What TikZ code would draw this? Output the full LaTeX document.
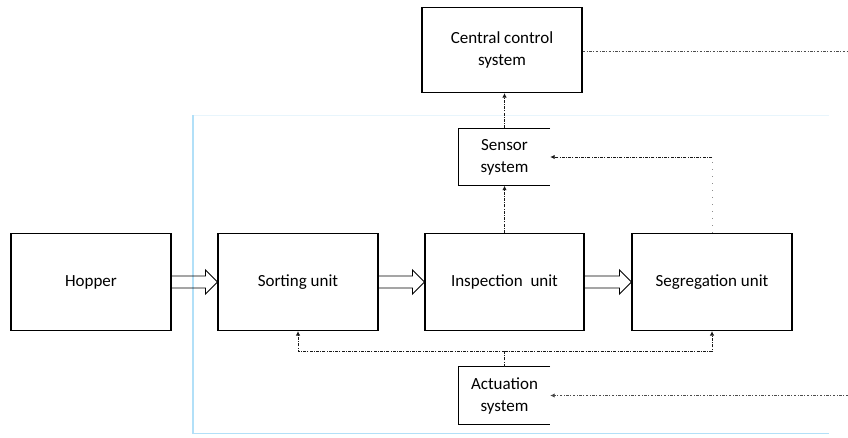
\documentclass[tikz,border=0pt]{standalone}
\usepackage{fontspec}
\setmainfont{Carlito}
\usetikzlibrary{arrows.meta,calc}

\definecolor{framecol}{RGB}{178,224,248}
\definecolor{framefaint}{RGB}{232,245,252}

\tikzset{
  unitbox/.style={draw=black, line width=1.1pt, minimum width=160pt, minimum height=97pt,
    inner sep=0pt, font=\fontsize{17}{22}\selectfont, align=center},
  openbox/.style={draw=none, minimum width=91pt, minimum height=57pt,
    inner sep=0pt, font=\fontsize{17}{22}\selectfont, align=center},
  signal/.style={line width=1pt, black!90, dash pattern=on 3pt off 1.2pt on 1pt off 1.2pt},
  feed/.style={line width=1pt, black!70, dash pattern=on 2.5pt off 1.5pt on 1pt off 1.5pt},
  sparse/.style={line width=1pt, black!45, dash pattern=on 1pt off 6pt},
  tip/.style={-{Latex[length=4.5pt,width=4.5pt]}},
  hollow/.style={draw=black, line width=0.9pt, line join=miter},
  frame/.style={line width=1.2pt, framecol},
}

% open-ended block arrow between two boxes
\newcommand{\flowarrow}[2]{%
  \draw[hollow] ($(#1.east)+(0,-6)$) -- ($(#2.west)+(-12,-6)$) -- ($(#2.west)+(-12,-12)$)
    -- (#2.west) -- ($(#2.west)+(-12,12)$) -- ($(#2.west)+(-12,6)$) -- ($(#1.east)+(0,6)$);}

\begin{document}
\begin{tikzpicture}[x=1pt,y=-1pt]
\useasboundingbox (0,0) rectangle (848,437);

% light blue enclosure of the machine
\draw[line width=1pt, framefaint] (193,115) -- (829,115);
\draw[frame] (829,433.5) -- (193,433.5) -- (193,115);

% main chain of units
\node[unitbox] (hop) at (91,282) {Hopper};
\node[unitbox] (sort) at (298,282) {Sorting unit};
\node[unitbox, minimum width=159pt] (insp) at (504.5,282) {Inspection\ \ unit};
\node[unitbox] (seg) at (712,282) {Segregation unit};

% controller and subsystems
\node[unitbox, minimum height=85pt] (ccs) at (502,50) {Central control\\system};
\node[openbox] (sens) at (504.5,157) {Sensor\\system};
\node[openbox] (act) at (504.5,395.5) {Actuation\\system};
\foreach \b in {sens,act}
  \draw[line width=1.1pt] (\b.north east) -- (\b.north west) -- (\b.south west) -- (\b.south east);

% material flow
\flowarrow{hop}{sort}
\flowarrow{sort}{insp}
\flowarrow{insp}{seg}

% sensing path
\draw[signal, tip] (sens.north) -- (sens.north |- ccs.south);
\draw[signal, tip] (sens.south |- insp.north) -- (sens.south);
\coordinate (segup) at (seg.north |- sens.east);
\draw[sparse] (seg.north) -- (segup);
\draw[signal, tip] (segup) -- (sens.east);

% actuation path
\coordinate (busL) at ($(sort.south)+(0,20)$);
\coordinate (busR) at (busL -| seg.south);
\draw[signal] (act.north) -- (act.north |- busL);
\draw[signal, tip] (busL -| act.north) -- (busL) -- (sort.south);
\draw[signal, tip] (busL -| act.north) -- (busR) -- (seg.south);

% links to the central controller
\coordinate (ccout) at (848,51);
\coordinate (actin) at (848,395.5);
\draw[feed] (ccs.east |- ccout) -- (ccout);
\draw[feed, tip] (actin) -- (act.east);
\end{tikzpicture}
\end{document}
